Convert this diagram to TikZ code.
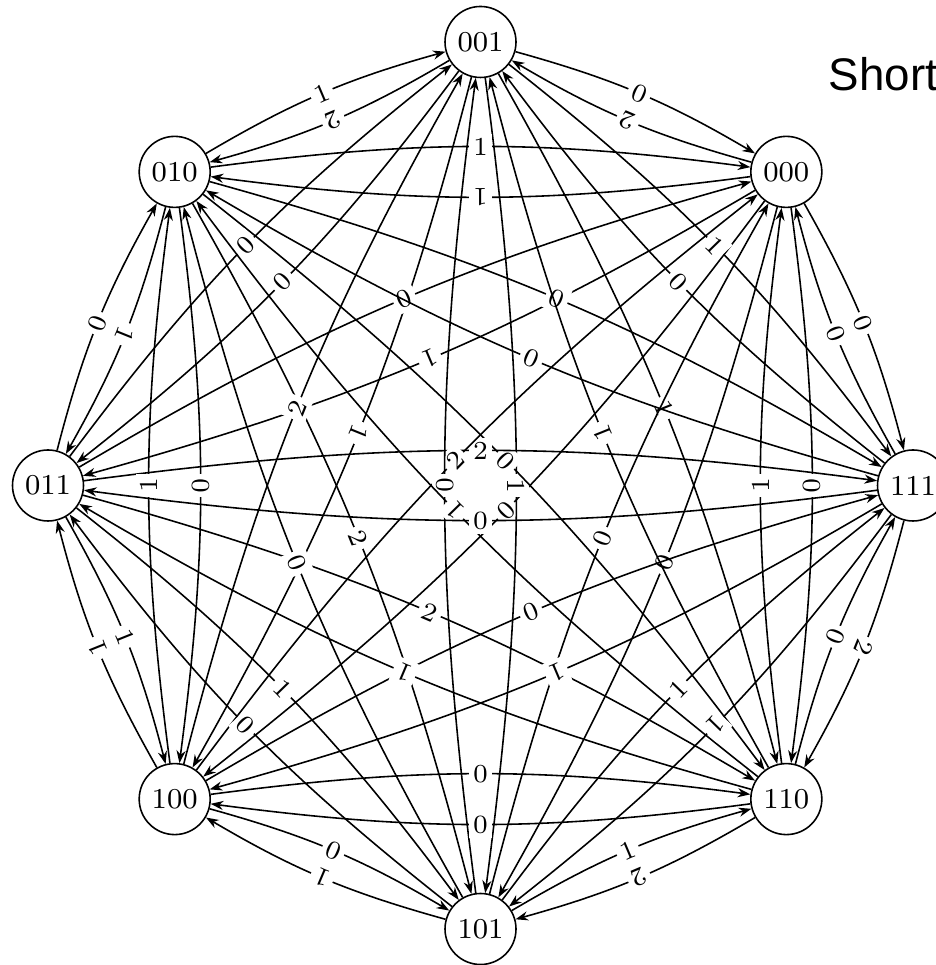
\documentclass[tikz,border=0pt]{standalone}
\usepackage{fontspec}
\newfontfamily\slidefont{Liberation Sans}
\usetikzlibrary{arrows.meta}
\begin{document}
\begin{tikzpicture}[
		state/.style={draw, circle, minimum size=0.71cm, inner sep=0pt, font=\fontsize{8.2}{9}\selectfont},
		trans/.style={-{Stealth[length=3.6pt,width=2.6pt]}, bend left=7.5},
		weight/.style={midway, sloped, allow upside down, fill=white, inner sep=1.2pt, font=\fontsize{7.4}{8}\selectfont},
		line width=0.45pt]
		\useasboundingbox (0,0) rectangle (9.35,9.65);
		\begin{scope}[shift={(4.805,4.795)}]
		\foreach \s/\a in {001/90, 000/45, 111/0, 110/-45, 101/-90, 100/-135, 011/180, 010/135}
		{\node[state] (n\s) at (\a:4.325cm and 4.435cm) {\s};}
		\end{scope}
		\foreach \u/\v/\w in {000/001/2, 000/010/1, 000/011/1, 000/100/0, 000/101/0, 000/110/0, 000/111/0,
			001/000/0, 001/010/2, 001/011/0, 001/100/1, 001/101/1, 001/110/1, 001/111/1,
			010/000/1, 010/001/1, 010/011/1, 010/100/0, 010/101/2, 010/110/0, 010/111/0,
			011/000/0, 011/001/0, 011/010/0, 011/100/1, 011/101/1, 011/110/2, 011/111/2,
			100/000/2, 100/001/2, 100/010/1, 100/011/1, 100/101/0, 100/110/0, 100/111/0,
			101/000/0, 101/001/0, 101/010/0, 101/011/0, 101/100/1, 101/110/1, 101/111/1,
			110/000/1, 110/001/1, 110/010/1, 110/011/1, 110/100/0, 110/101/2, 110/111/0,
			111/000/0, 111/001/0, 111/010/0, 111/011/0, 111/100/1, 111/101/1, 111/110/2}
		{\draw[trans] (n\u) to node[weight]{\w} (n\v);}
		\node[anchor=base west, inner sep=0pt, font=\slidefont\fontsize{13}{15}\selectfont] (title) at (8.28,8.74) {Short};
	\end{tikzpicture}
\end{document}
